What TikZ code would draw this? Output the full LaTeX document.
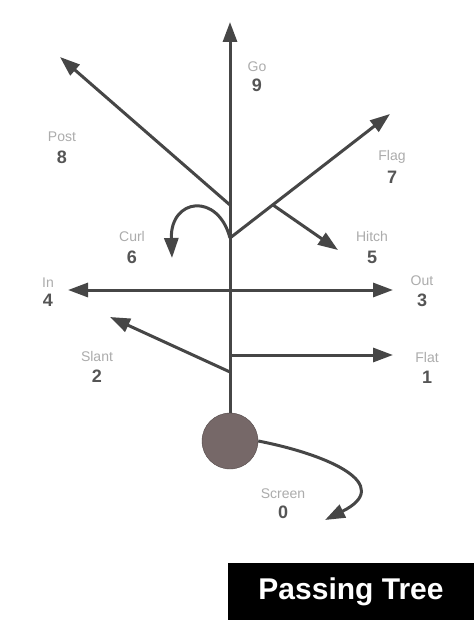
\documentclass[tikz,border=0pt]{standalone}
\usepackage{fontspec}
\setmainfont{Liberation Sans}
\usetikzlibrary{arrows.meta,positioning}
\definecolor{routegray}{RGB}{70,70,70}
\definecolor{numgray}{RGB}{85,85,85}
\definecolor{ballfill}{RGB}{118,104,104}
\tikzset{
  route/.style={draw=routegray, line width=3pt, -{Triangle[length=20pt,width=14pt]}},
  num/.style={text=numgray, font=\fontsize{18}{18}\selectfont\bfseries, inner sep=1pt},
  rname/.style={text=gray!65, font=\fontsize{14}{14}\selectfont, inner sep=1pt},
}
\begin{document}
\begin{tikzpicture}[x=1pt, y=-1pt]
  \useasboundingbox[fill=white] (0,0) rectangle (474,620);
  % ball and branch points
  \node [circle, minimum size=56pt, inner sep=0pt, fill=ballfill, draw=ballfill!70!black, thin] at (230,441) (ball) {};
  \coordinate (j8) at (230,205);
  \coordinate (j6) at (230,238);
  \coordinate (j5) at (273,205);
  \coordinate (j4) at (230,290);
  \coordinate (j1) at (230,355);
  \coordinate (j2) at (230,372);
  % route ends
  \coordinate (t9) at (230,22);
  \coordinate (t8) at (60,57);
  \coordinate (t7) at (390,114);
  \coordinate (t6) at (172,258);
  \coordinate (t5) at (338,250);
  \coordinate (t4) at (68,290);
  \coordinate (t3) at (393,290);
  \coordinate (t2) at (110,317);
  \coordinate (t1) at (393,355);
  \coordinate (t0) at (325,520);
  % routes
  \draw [route] (ball.north) -- (t9);
  \draw [route] (j8) -- (t8);
  \draw [route] (j6) -- (t7);
  \draw [route] (j6) .. controls (218,192) and (170,198) .. (t6);
  \draw [route] (j5) -- (t5);
  \draw [route] (j4) -- (t4);
  \draw [route] (j4) -- (t3);
  \draw [route] (j2) -- (t2);
  \draw [route] (j1) -- (t1);
  \draw [route] (ball.east) .. controls (330,455) and (395,485) .. (t0);
  % numbers
  \node [num] at (257,85) (n9) {9};
  \node [num] at (62,157) (n8) {8};
  \node [num] at (392,177) (n7) {7};
  \node [num] at (132,257) (n6) {6};
  \node [num] at (372,257) (n5) {5};
  \node [num] at (48,300) (n4) {4};
  \node [num] at (422,300) (n3) {3};
  \node [num] at (97,376) (n2) {2};
  \node [num] at (427,377) (n1) {1};
  \node [num] at (283,512) (n0) {0};
  % route names
  \node [rname, above=5pt of n9] {Go};
  \node [rname, above=7pt of n8] {Post};
  \node [rname, above=5pt of n7] {Flag};
  \node [rname, above=7pt of n6] {Curl};
  \node [rname, above=7pt of n5] {Hitch};
  \node [rname, above=4pt of n4] {In};
  \node [rname, above=6pt of n3] {Out};
  \node [rname, above=6pt of n2] {Slant};
  \node [rname, above=6pt of n1] {Flat};
  \node [rname, above=5pt of n0] {Screen};
  % title
  \node [fill=black, text=white, font=\fontsize{30}{30}\selectfont\bfseries, minimum width=246pt, minimum height=57pt, inner sep=0pt] at (351,591.5) (title) {Passing Tree};
\end{tikzpicture}
\end{document}
